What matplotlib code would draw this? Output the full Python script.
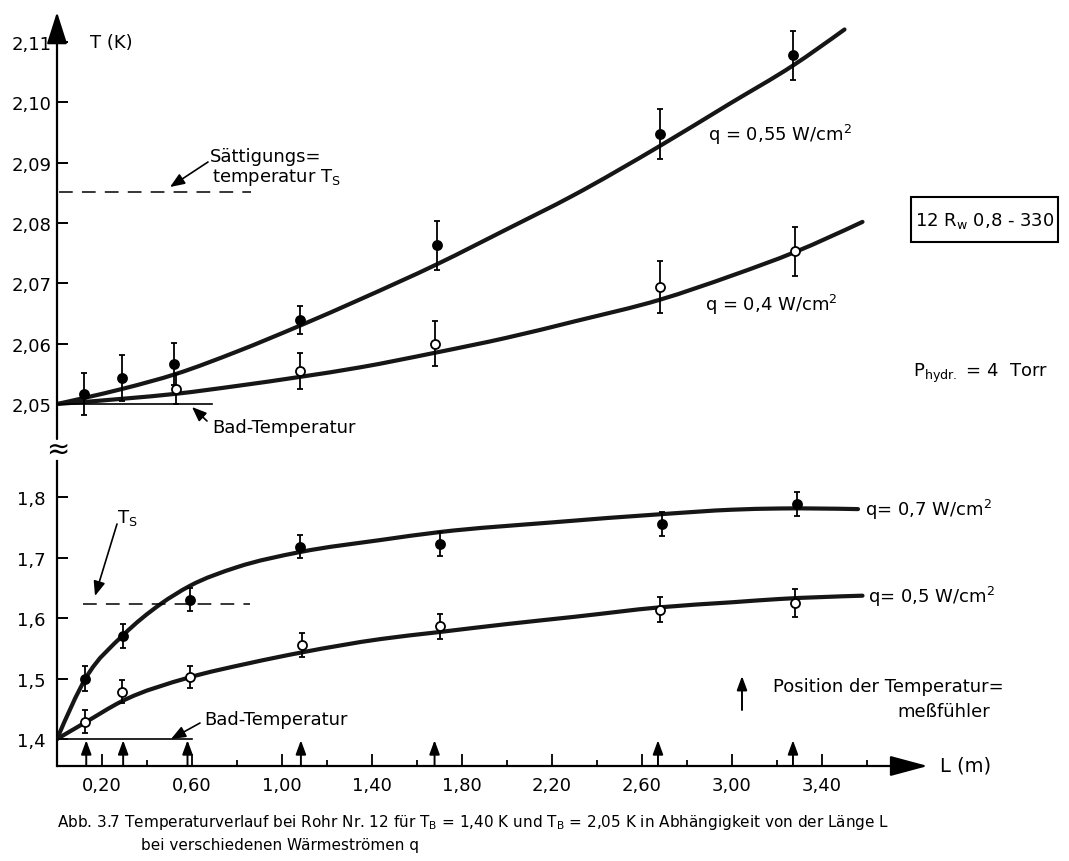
import matplotlib
matplotlib.use("Agg")
import matplotlib.pyplot as plt
from matplotlib.patches import PathPatch, Rectangle
from matplotlib.path import Path

plt.rcParams["font.family"] = "DejaVu Sans"

# --- Messwerte, T_B = 2,05 K -------------------------------------------
L_MESS_055 = [0.12, 0.29, 0.52, 1.08, 1.69, 2.68, 3.27]
T_MESS_055 = [2.0517, 2.0543, 2.0566, 2.0639, 2.0763, 2.0948, 2.1078]
ERR_055 = [0.0035, 0.0038, 0.0035, 0.0023, 0.0041, 0.0041, 0.0040]

L_MESS_04 = [0.53, 1.08, 1.68, 2.68, 3.28]
T_MESS_04 = [2.0525, 2.0555, 2.0600, 2.0694, 2.0753]
ERR_04 = [0.0025, 0.0030, 0.0037, 0.0043, 0.0041]

# ausgeglichene Kurven (Stützpunkte)
L_KURVE_055 = [0.0, 0.12, 0.30, 0.53, 0.80, 1.08, 1.35, 1.69, 2.00, 2.29, 2.68, 2.99, 3.27, 3.50]
T_KURVE_055 = [2.0500, 2.0510, 2.0526, 2.0550, 2.0587, 2.0630, 2.0674, 2.0732, 2.0790,
               2.0845, 2.0928, 2.0998, 2.1061, 2.1121]
L_KURVE_04 = [0.0, 0.30, 0.53, 0.80, 1.08, 1.35, 1.68, 2.00, 2.30, 2.68, 3.00, 3.28, 3.58]
T_KURVE_04 = [2.0500, 2.0509, 2.0517, 2.0530, 2.0545, 2.0561, 2.0585, 2.0610, 2.0637,
              2.0673, 2.0713, 2.0752, 2.0802]

# --- Messwerte, T_B = 1,40 K -------------------------------------------
L_MESS_07 = [0.125, 0.295, 0.59, 1.08, 1.70, 2.69, 3.29]
T_MESS_07 = [1.500, 1.570, 1.630, 1.718, 1.722, 1.755, 1.788]
ERR_07 = [0.020, 0.020, 0.019, 0.019, 0.020, 0.020, 0.020]

L_MESS_05 = [0.125, 0.29, 0.59, 1.09, 1.70, 2.68, 3.28]
T_MESS_05 = [1.4286, 1.478, 1.503, 1.556, 1.586, 1.614, 1.625]
ERR_05 = [0.019, 0.019, 0.018, 0.020, 0.021, 0.021, 0.023]

L_KURVE_07 = [0.0, 0.13, 0.295, 0.46, 0.59, 0.80, 1.08, 1.44, 1.70, 2.20,
              2.70, 3.00, 3.21, 3.56]
T_KURVE_07 = [1.400, 1.502, 1.572, 1.623, 1.653, 1.684, 1.709, 1.729,
              1.742, 1.758, 1.772, 1.779, 1.781, 1.780]
L_KURVE_05 = [0.0, 0.124, 0.286, 0.59, 0.85, 1.09, 1.44, 1.69, 2.00, 2.30, 2.68, 3.00,
              3.21, 3.58]
T_KURVE_05 = [1.400, 1.427, 1.462, 1.502, 1.525, 1.5433, 1.5653, 1.5764, 1.590,
              1.602, 1.6177, 1.626, 1.6314, 1.6369]

# Lage der Temperaturmessfühler
L_FUEHLER = [0.13, 0.294, 0.58, 1.084, 1.678, 2.671, 3.271]

T_SAETT_OBEN = 2.0852
T_SAETT_UNTEN = 1.623

Y_TICKS_OBEN = [2.05, 2.06, 2.07, 2.08, 2.09, 2.10, 2.11]
Y_LABELS_OBEN = ["2,05", "2,06", "2,07", "2,08", "2,09", "2,10", "2,11"]
Y_TICKS_UNTEN = [1.4, 1.5, 1.6, 1.7, 1.8]
Y_LABELS_UNTEN = ["1,4", "1,5", "1,6", "1,7", "1,8"]
X_TICKS = [0.2, 0.6, 1.0, 1.4, 1.8, 2.2, 2.6, 3.0, 3.4]
X_LABELS = ["0,20", "0,60", "1,00", "1,40", "1,80", "2,20", "2,60", "3,00", "3,40"]
X_MINOR = [0.4, 0.8, 1.2, 1.6, 2.0, 2.4, 2.8, 3.2, 3.6]

W, H = 1069, 862
X0 = 57            # Pixel des Nullpunkts der L-Achse
PX_PRO_M = 225.0
L_MAX = (W - X0) / PX_PRO_M
L_PFEIL = 3.87     # Ende der L-Achse


def fx(px):
    return px / W


def fy(py):
    return 1 - py / H


def pfeil(xy, xytext, coords="figure fraction", ax=None, kopf=0.55, breite=0.22, ms=16, lw=1.2):
    ziel = ax if ax is not None else ax_o
    ziel.annotate("", xy=xy, xytext=xytext, xycoords=coords, textcoords=coords,
                  arrowprops=dict(arrowstyle=f"-|>,head_length={kopf},head_width={breite}",
                                  color="k", lw=lw, shrinkA=0, shrinkB=0,
                                  mutation_scale=ms),
                  annotation_clip=False)


def glatte_kurve(ax, xs, ys, **kw):
    """Kurvenzug durch die Stützpunkte als kubische Hermite-/Bezier-Segmente."""
    n = len(xs)
    h = [xs[i + 1] - xs[i] for i in range(n - 1)]
    d = [(ys[i + 1] - ys[i]) / h[i] for i in range(n - 1)]
    m = [0.0] * n
    for i in range(1, n - 1):
        m[i] = (h[i] * d[i - 1] + h[i - 1] * d[i]) / (h[i - 1] + h[i])
    m[0] = (3 * d[0] - m[1]) / 2
    m[-1] = (3 * d[-1] - m[-2]) / 2
    verts, codes = [(xs[0], ys[0])], [Path.MOVETO]
    for i in range(n - 1):
        verts += [(xs[i] + h[i] / 3, ys[i] + m[i] * h[i] / 3),
                  (xs[i + 1] - h[i] / 3, ys[i + 1] - m[i + 1] * h[i] / 3),
                  (xs[i + 1], ys[i + 1])]
        codes += [Path.CURVE4] * 3
    ax.add_patch(PathPatch(Path(verts, codes), fill=False, **kw))


fig = plt.figure(figsize=(W / 100, H / 100), dpi=100)

ax_o = fig.add_axes([fx(X0), fy(440), 1 - fx(X0), fy(13) - fy(440)])
ax_u = fig.add_axes([fx(X0), fy(767), 1 - fx(X0), fy(462) - fy(767)])
ax_o.set_xlim(0, L_MAX)
ax_o.set_ylim(2.0442, 2.1150)
ax_u.set_xlim(0, L_MAX)
ax_u.set_ylim(1.3554, 1.8595)

for ax in (ax_o, ax_u):
    ax.patch.set_visible(False)
    for s in ax.spines.values():
        s.set_visible(False)

KURVE = dict(edgecolor="#161616", lw=3.0, capstyle="round", zorder=2)
FEHLER = dict(fmt="o", ms=6.5, mec="k", mew=1.3, ecolor="k", elinewidth=1.3,
              capsize=2.5, capthick=1.3, zorder=3)

# oberer Teil: T_B = 2,05 K
glatte_kurve(ax_o, L_KURVE_055, T_KURVE_055, **KURVE)
glatte_kurve(ax_o, L_KURVE_04, T_KURVE_04, **KURVE)
ax_o.errorbar(L_MESS_055, T_MESS_055, yerr=ERR_055, mfc="k", **FEHLER)
ax_o.errorbar(L_MESS_04, T_MESS_04, yerr=ERR_04, mfc="white", **FEHLER)
ax_o.plot([0.01, 0.86], [T_SAETT_OBEN, T_SAETT_OBEN], color="k", lw=1.1, ls=(0, (9, 6)))
ax_o.plot([0, 0.69], [2.05, 2.05], color="k", lw=1.2)

# unterer Teil: T_B = 1,40 K
glatte_kurve(ax_u, L_KURVE_07, T_KURVE_07, **KURVE)
glatte_kurve(ax_u, L_KURVE_05, T_KURVE_05, **KURVE)
ax_u.errorbar(L_MESS_07, T_MESS_07, yerr=ERR_07, mfc="k", **FEHLER)
ax_u.errorbar(L_MESS_05, T_MESS_05, yerr=ERR_05, mfc="white", **FEHLER)
ax_u.plot([0.116, 0.858], [T_SAETT_UNTEN, T_SAETT_UNTEN], color="k", lw=1.1, ls=(0, (9, 6)))
ax_u.plot([0, 0.60], [1.40, 1.40], color="k", lw=1.2)

# Achsen
pfeil((0, 1), (0, 0), coords="axes fraction", ax=ax_o, kopf=1.1, breite=0.35, ms=18, lw=1.6)
ax_u.plot([0, 0], [1.3554, 1.8595], color="k", lw=1.6, clip_on=False)
ax_u.annotate("", xy=(L_PFEIL, 0), xytext=(0, 0), xycoords=("data", "axes fraction"),
              textcoords=("data", "axes fraction"),
              arrowprops=dict(arrowstyle="-|>,head_length=1.3,head_width=0.35", color="k",
                              lw=1.6, shrinkA=0, shrinkB=0, mutation_scale=18),
              annotation_clip=False)

ax_o.set_yticks(Y_TICKS_OBEN, Y_LABELS_OBEN)
ax_o.tick_params(axis="y", direction="in", length=8, width=1.4, pad=4, labelsize=13)
ax_o.tick_params(axis="x", bottom=False, labelbottom=False)
ax_u.set_yticks(Y_TICKS_UNTEN, Y_LABELS_UNTEN)
ax_u.tick_params(axis="y", direction="in", length=8, width=1.4, pad=8, labelsize=13)
ax_u.set_xticks(X_TICKS, X_LABELS)
ax_u.set_xticks(X_MINOR, minor=True)
ax_u.tick_params(axis="x", which="major", direction="in", length=9, width=1.3, pad=7,
                 labelsize=13)
ax_u.tick_params(axis="x", which="minor", direction="in", length=4.5, width=1.3)

# Fühlerpositionen
for L in L_FUEHLER:
    pfeil((L, 1.398), (L, 1.3554), coords="data", ax=ax_u, kopf=0.6, breite=0.22, ms=14,
          lw=1.4)

# Beschriftungen
TXT = dict(fontsize=13, va="center", ha="left")
fig.text(fx(90), fy(43), "T (K)", **TXT)
fig.text(fx(210), fy(157), "Sättigungs=", **TXT)
fig.text(fx(212), fy(178), r"temperatur T$_\mathrm{S}$", **TXT)
pfeil((fx(170), fy(188)), (fx(208), fy(163)))
fig.text(fx(212), fy(428), "Bad-Temperatur", **TXT)
pfeil((fx(192), fy(408)), (fx(207), fy(422)))
fig.text(fx(708), fy(135), r"q = 0,55 W/cm$^2$", **TXT)
fig.text(fx(705), fy(305), r"q = 0,4 W/cm$^2$", **TXT)

# Rohrbezeichnung im Rahmen
fig.add_artist(Rectangle((fx(911), fy(243)), fx(1058) - fx(911), fy(198) - fy(243),
                         transform=fig.transFigure, fill=False, ec="k", lw=1.5))
fig.text(fx(984.5), fy(221), r"12 R$_\mathrm{w}$ 0,8 - 330", fontsize=13, va="center",
         ha="center")
fig.text(fx(913), fy(373), r"P$_\mathrm{hydr.}$ = 4  Torr", **TXT)
fig.text(fx(58), fy(450), "≈", fontsize=20, va="center", ha="center")

fig.text(fx(117), fy(518), r"T$_\mathrm{S}$", **TXT)
pfeil((fx(95), fy(597)), (fx(117), fy(525)))
fig.text(fx(865), fy(510), r"q= 0,7 W/cm$^2$", **TXT)
fig.text(fx(868), fy(597), r"q= 0,5 W/cm$^2$", **TXT)
fig.text(fx(204), fy(720), "Bad-Temperatur", **TXT)
pfeil((fx(171), fy(740)), (fx(200), fy(724)))

pfeil((fx(742), fy(677)), (fx(742), fy(711)), kopf=0.6, breite=0.22, ms=14, lw=1.4)
fig.text(fx(773), fy(687), "Position der Temperatur=", **TXT)
fig.text(fx(897), fy(712), "meßfühler", **TXT)
fig.text(fx(940), fy(766), "L (m)", fontsize=14, va="center", ha="left")

fig.text(fx(57), fy(823),
         r"Abb. 3.7 Temperaturverlauf bei Rohr Nr. 12 für T$_\mathrm{B}$ = 1,40 K und "
         r"T$_\mathrm{B}$ = 2,05 K in Abhängigkeit von der Länge L",
         fontsize=11, va="center", ha="left")
fig.text(fx(141), fy(846), "bei verschiedenen Wärmeströmen q", fontsize=11, va="center",
         ha="left")

fig.savefig("out.png", dpi=100)
